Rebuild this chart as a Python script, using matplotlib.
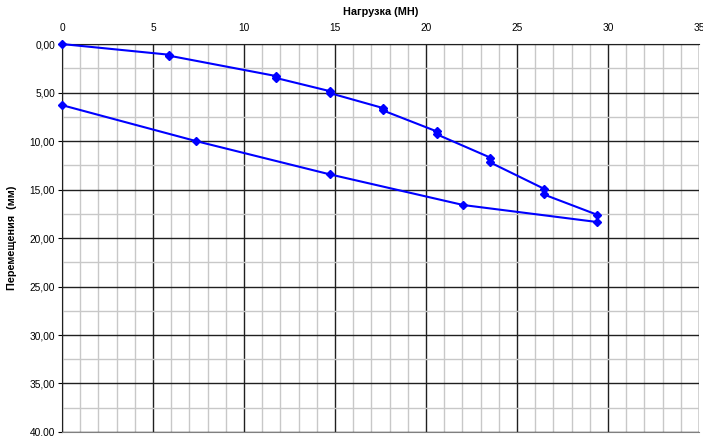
import numpy as np
import matplotlib
matplotlib.use("Agg")
import matplotlib.pyplot as plt
from matplotlib.ticker import MultipleLocator

plt.rcParams['font.family'] = ['Liberation Sans', 'DejaVu Sans']

# load (MN) vs settlement (mm): loading with two readings per step, then unloading
load = [0, 5.88, 5.88, 11.76, 11.76, 14.7, 14.7, 17.64, 17.64, 20.58, 20.58,
        23.52, 23.52, 26.46, 26.46, 29.4, 29.4, 22.05, 14.7, 7.35, 0]
disp = [0, 1.1, 1.2, 3.3, 3.5, 4.85, 5.05, 6.6, 6.85, 9.0, 9.3,
        11.7, 12.2, 14.9, 15.5, 17.6, 18.35, 16.6, 13.43, 10.0, 6.3]

xticks = [0, 5, 10, 15, 20, 25, 30, 35]
yticks = [0, 5, 10, 15, 20, 25, 30, 35, 40]
ylabels = ['0,00', '5,00', '10,00', '15,00', '20,00', '25,00', '30,00', '35,00', '40,00']

fig = plt.figure(figsize=(7.03, 4.36), dpi=100)
ax = fig.add_axes([0.0882, 0.0092, 0.9061, 0.8898])

ax.plot(load, disp, color='#0000ff', lw=1.5, marker='D', ms=4.5, zorder=5,
        clip_on=False)

ax.set_xlim(0, 35)
ax.set_ylim(40, 0)
ax.set_xticks(xticks)
ax.set_yticks(yticks)
ax.set_yticklabels(ylabels)
ax.xaxis.set_minor_locator(MultipleLocator(1))
ax.yaxis.set_minor_locator(MultipleLocator(2.5))
ax.xaxis.tick_top()
ax.xaxis.set_label_position('top')

ax.grid(which='minor', color='#c8c8c8', lw=1)
ax.grid(which='major', color='#202020', lw=1)
ax.set_axisbelow(True)

ax.tick_params(axis='x', which='both', length=0, labelsize=7.3, pad=8)
ax.tick_params(axis='y', which='major', length=3, labelsize=7.3, pad=2)
ax.tick_params(axis='y', which='minor', length=0)

ax.spines['right'].set_visible(False)
ax.spines['bottom'].set_color('#808080')
ax.spines['left'].set_color('#202020')
ax.spines['top'].set_color('#202020')

ax.set_xlabel('Нагрузка (МН)', fontsize=7.8, fontweight='bold', labelpad=6)
ax.set_ylabel('Перемещения  (мм)', fontsize=7.8, fontweight='bold', labelpad=9)

fig.savefig('out.png', dpi=100)
